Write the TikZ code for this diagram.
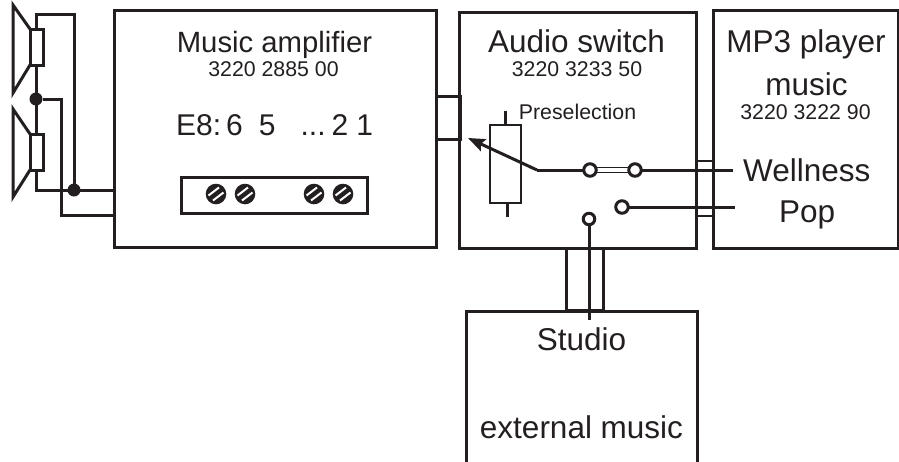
\documentclass[tikz,border=0pt]{standalone}
\usepackage{fontspec}
\setmainfont{Liberation Sans}
\usetikzlibrary{arrows.meta}
\definecolor{ink}{HTML}{231F20}
\tikzset{
box/.style={shape=rectangle,draw=ink,line width=3pt,inner sep=0pt,outer sep=0pt},
wire/.style={draw=ink,line width=3pt},
contact/.style={shape=circle,draw=ink,line width=3pt,fill=white,inner sep=0pt,minimum size=12.5pt,outer sep=0pt},
junction/.style={shape=circle,fill=ink,inner sep=0pt,minimum size=13pt,outer sep=0pt},
big/.style={text=ink,font=\fontsize{31.5}{36}\selectfont,inner sep=0pt,anchor=base},
small/.style={text=ink,font=\fontsize{21.3}{24}\selectfont,inner sep=0pt,anchor=base}
}
\newcommand{\screw}[2]{
\fill [ink] (#1,#2) circle (10.3);
\draw [white,line width=2pt] (#1-7.5,#2+1.5) -- (#1+3,#2-6.5);
\draw [white,line width=2pt] (#1-3,#2+6.5) -- (#1+7.5,#2-1.5);
}
\begin{document}
\begin{tikzpicture}[x=1pt,y=-1pt]
\useasboundingbox (0,0) rectangle (899,461);
% boxes
\path
(275,128.5) node [box,minimum width=322,minimum height=237](amp) {}
(577.5,130) node [box,minimum width=237,minimum height=236](switch) {}
(805.5,129) node [box,minimum width=185,minimum height=238](player) {}
(581.5,400) node [box,minimum width=231,minimum height=178](ext) {}
(448,118) node [box,minimum width=24,minimum height=43](jackamp) {}
(704.5,188.5) node [box,line width=2.4pt,minimum width=17,minimum height=55](jackplayer) {}
(585,279) node [box,minimum width=37,minimum height=62](jackext) {}
(274,195) node [box,minimum width=186,minimum height=36](strip) {}
(505.5,164) node [box,line width=2.4pt,minimum width=31,minimum height=78](pot) {};
% speakers
\path
(36.5,47) node [box,minimum width=13,minimum height=36](coila) {}
(36.5,152) node [box,minimum width=13,minimum height=36](coilb) {}
(36,99) node [junction](joina) {}
(74,190) node [junction](joinb) {};
\draw [wire,line join=miter] (coila.north west) -- (13,5) -- (13,93) -- (coila.south west);
\draw [wire,line join=miter] (coilb.north west) -- (13,109) -- (13,197) -- (coilb.south west);
\coordinate (ampa) at (amp.west |- joinb);
\coordinate (ampb) at (114,215);
\draw [wire] (coila.north) |- (74,14) -- (joinb);
\draw [wire] (coila.south) -- (coilb.north);
\draw [wire] (joina) -| (61,215) -- (ampb);
\draw [wire] (coilb.south) |- (ampa);
% screws
\screw{216}{194}
\screw{245}{194}
\screw{314}{194}
\screw{343}{194}
% texts
\path
(274.5,52) node [big,font=\fontsize{29.3}{34}\selectfont](ampname) {Music amplifier}
(273.5,76) node [small](ampno) {3220 2885 00}
(176,135.5) node [big,anchor=base west,font=\fontsize{30}{34}\selectfont](ampout) {E8:\hspace{5pt}6\hspace{16pt}5\hspace{25pt}...\hspace{6pt}2\hspace{8pt}1}
(576.5,52) node [big](switchname) {Audio switch}
(577,76) node [small](switchno) {3220 3233 50}
(577.5,119) node [small](presel) {Preselection}
(806,52) node [big](playername) {MP3 player}
(806.5,95) node [big](playermusic) {music}
(805.5,119) node [small](playerno) {3220 3222 90}
(743,181) node [big,anchor=base west](wellness) {Wellness}
(779,222) node [big,anchor=base west](pop) {Pop}
(581.5,350) node [big](studio) {Studio}
(581.5,438) node [big](extname) {external music};
% switch
\coordinate (tap) at (537,170);
\coordinate (tip) at (468,138);
\coordinate (potup) at (505,111);
\coordinate (potdown) at (507,217);
\coordinate (wellend) at (733,170);
\coordinate (popend) at (735,207);
\coordinate (studioend) at (589,320);
\path
(590,170) node [contact](swa) {}
(635,170) node [contact](swb) {}
(622,207) node [contact](swc) {}
(589,219) node [contact,minimum size=11.5pt](swd) {};
\draw [wire] (potup) -- (pot.north -| potup);
\draw [wire] (potdown) -- (pot.south -| potdown);
\draw [wire,-{Stealth[length=17pt,width=13pt,inset=3pt]}] (tap) -- (tip);
\draw [wire] (tap) -- (swa);
\draw [draw=ink,line width=1pt] ([yshift=-2.5pt]swa.east) -- ([yshift=-2.5pt]swb.west);
\draw [draw=ink,line width=1pt] ([yshift=2.5pt]swa.east) -- ([yshift=2.5pt]swb.west);
\draw [wire] (swb) -- (wellend);
\draw [wire] (swc) -- (popend);
\draw [wire] (swd) -- (studioend);
\end{tikzpicture}
\end{document}
